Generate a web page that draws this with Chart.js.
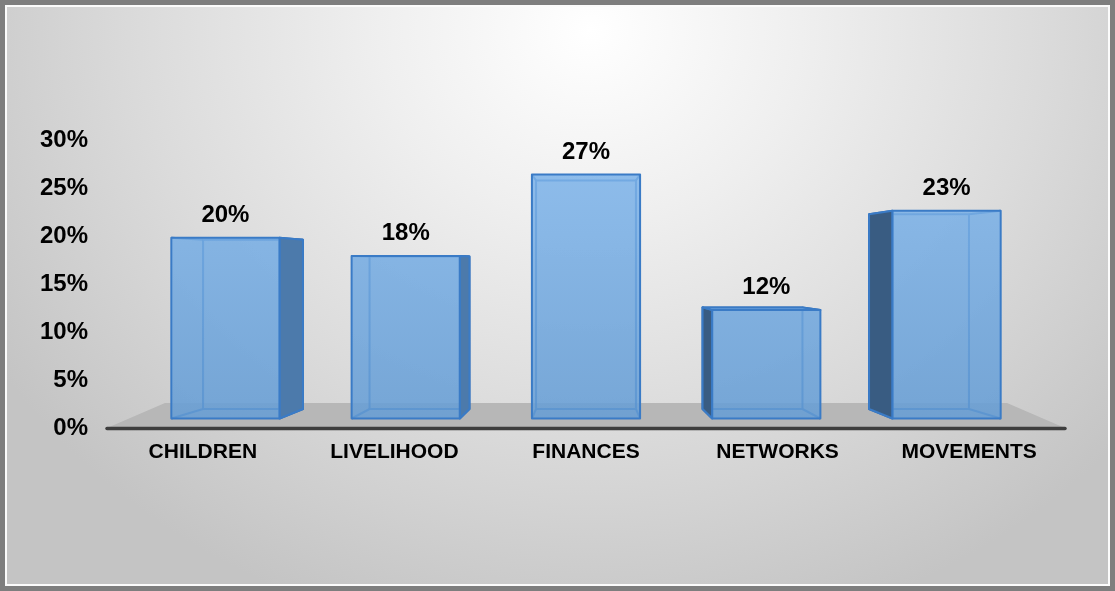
<!DOCTYPE html>
<html lang="en">
<head>
<meta charset="utf-8" />
<title>Shares by area</title>
<script src="https://cdn.jsdelivr.net/npm/chart.js"></script>
<style>
  html, body { margin: 0; padding: 0; }
  body { width: 1115px; height: 591px; background: #7e7e7e; position: relative; overflow: hidden; }
  #panel {
    position: absolute; left: 5px; top: 5px; width: 1105px; height: 581px;
    box-sizing: border-box; border: 2px solid #fbfbfb;
    background: radial-gradient(ellipse 64% 108% at 53% 4%, #ffffff 0%, #efefef 30%, #dbdbdb 64%, #c4c4c4 100%);
  }
  #chart { position: absolute; left: 0; top: 0; }
</style>
</head>
<body>
<div id="panel"></div>
<canvas id="chart" width="1115" height="591"></canvas>
<script>
const categories = ['CHILDREN', 'LIVELIHOOD', 'FINANCES', 'NETWORKS', 'MOVEMENTS'];
const shares = [20, 18, 27, 12, 23];
const percentTicks = [0, 5, 10, 15, 20, 25, 30];

const FONT = '"Liberation Sans", Arial, sans-serif';

// perspective: depth factors towards a vanishing point above the baseline
const FRONT = { kx: 0.941, ky: 0.941 };
const BACK = { kx: 0.869, ky: 0.882 };
const FLOOR = { kx: 0.879, ky: 0.845 };
const EYE_DROP = 161;

function project(p, k, v) {
  return [v.x + k.kx * (p[0] - v.x), v.y + k.ky * (p[1] - v.y)];
}

function poly(ctx, pts) {
  ctx.beginPath();
  ctx.moveTo(pts[0][0], pts[0][1]);
  for (let i = 1; i < pts.length; i++) ctx.lineTo(pts[i][0], pts[i][1]);
  ctx.closePath();
}

const box3d = {
  id: 'box3d',
  beforeDatasetsDraw(chart) {
    const { ctx, chartArea: ca } = chart;
    const v = { x: (ca.left + ca.right) / 2, y: ca.bottom - EYE_DROP };
    const fl = [ca.left, ca.bottom], fr = [ca.right, ca.bottom];
    ctx.save();
    poly(ctx, [fl, project(fl, FLOOR, v), project(fr, FLOOR, v), fr]);
    ctx.fillStyle = '#b7b7b7';
    ctx.fill();
    // axis line
    ctx.beginPath();
    ctx.moveTo(ca.left, ca.bottom + 0.5);
    ctx.lineTo(ca.right, ca.bottom + 0.5);
    ctx.strokeStyle = '#3e3e3e';
    ctx.lineWidth = 3.5;
    ctx.lineCap = 'round';
    ctx.stroke();
    ctx.restore();
  },
  afterDatasetsDraw(chart) {
    const { ctx, chartArea: ca } = chart;
    const v = { x: (ca.left + ca.right) / 2, y: ca.bottom - EYE_DROP };
    const meta = chart.getDatasetMeta(0);
    const grad = ctx.createLinearGradient(0, ca.top, 0, ca.bottom);
    grad.addColorStop(0, 'rgba(128,182,236,0.86)');
    grad.addColorStop(1, 'rgba(100,156,212,0.86)');

    ctx.save();
    ctx.lineJoin = 'round';
    meta.data.forEach((bar, i) => {
      const { x, y, base, width } = bar.getProps(['x', 'y', 'base', 'width'], true);
      const x0 = x - width / 2, x1 = x + width / 2;
      const corners = [[x0, y], [x1, y], [x1, base], [x0, base]];
      const F = corners.map(p => project(p, FRONT, v));
      const B = corners.map(p => project(p, BACK, v));

      // hidden edges seen through the front
      ctx.strokeStyle = 'rgba(30,95,175,0.9)';
      ctx.lineWidth = 2;
      poly(ctx, B);
      ctx.stroke();
      for (let c = 0; c < 4; c++) {
        ctx.beginPath();
        ctx.moveTo(F[c][0], F[c][1]);
        ctx.lineTo(B[c][0], B[c][1]);
        ctx.stroke();
      }

      ctx.strokeStyle = '#3a7bc6';
      ctx.lineWidth = 2;
      if (B[1][0] > F[1][0]) {
        poly(ctx, [F[1], B[1], B[2], F[2]]);
        ctx.fillStyle = '#4c7aab';
        ctx.fill();
        ctx.stroke();
      }
      if (B[0][0] < F[0][0]) {
        poly(ctx, [F[0], B[0], B[3], F[3]]);
        ctx.fillStyle = '#395c82';
        ctx.fill();
        ctx.stroke();
      }
      if (B[0][1] < F[0][1]) {
        poly(ctx, [F[0], F[1], B[1], B[0]]);
        ctx.fillStyle = '#78ade3';
        ctx.fill();
        ctx.stroke();
      }

      poly(ctx, F);
      ctx.fillStyle = grad;
      ctx.fill();
      ctx.stroke();

      // value label above the front face
      ctx.fillStyle = '#000';
      ctx.font = 'bold 24px ' + FONT;
      ctx.textAlign = 'center';
      ctx.textBaseline = 'alphabetic';
      ctx.fillText(shares[i] + '%', (F[0][0] + F[1][0]) / 2, F[0][1] - 16);
    });
    ctx.restore();
  }
};

new Chart(document.getElementById('chart'), {
  type: 'bar',
  data: {
    labels: categories,
    datasets: [{
      data: shares,
      backgroundColor: 'rgba(0,0,0,0)',
      borderWidth: 0,
      barPercentage: 0.6,
      categoryPercentage: 1
    }]
  },
  options: {
    responsive: false,
    animation: false,
    layout: { padding: { left: 0, top: 140, right: 50, bottom: 0 } },
    plugins: { legend: { display: false }, tooltip: { enabled: false } },
    scales: {
      x: {
        grid: { display: false, drawTicks: false },
        border: { display: false },
        ticks: { color: '#000', font: { family: FONT, size: 21, weight: 'bold' }, padding: 12, maxRotation: 0, autoSkip: false },
        afterFit(s) { s.height = 163; }
      },
      y: {
        min: 0,
        max: 30,
        grid: { display: false, drawTicks: false },
        border: { display: false },
        afterBuildTicks(s) { s.ticks = percentTicks.map(t => ({ value: t })); },
        ticks: { color: '#000', font: { family: FONT, size: 24, weight: 'bold' }, padding: 19, callback: t => t + '%' },
        afterFit(s) { s.width = 107; }
      }
    }
  },
  plugins: [box3d]
});
</script>
</body>
</html>
